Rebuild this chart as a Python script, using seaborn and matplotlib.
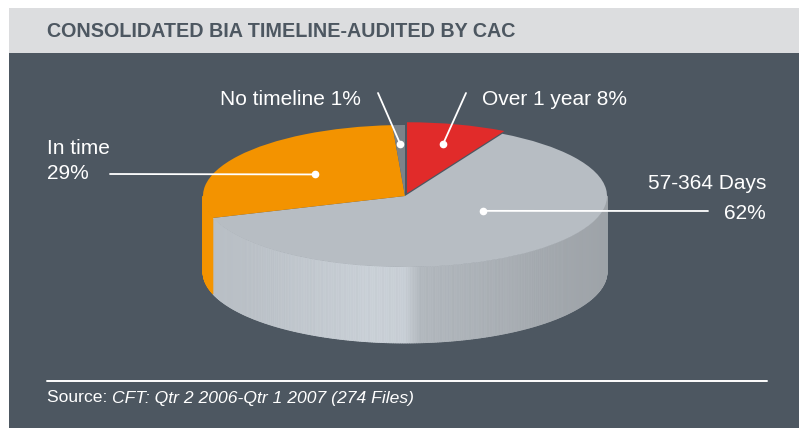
import numpy as np
import matplotlib
matplotlib.use("Agg")
import matplotlib.pyplot as plt
import seaborn as sns
from matplotlib.patches import Rectangle
from matplotlib.collections import PolyCollection

# data, clockwise from 12 o'clock
labels = ["Over 1 year", "57-364 Days", "In time", "No timeline"]
shares = [8, 62, 29, 1]
colors = ["#E12B2A", "#B7BDC3", "#F39300", "#7B838A"]
explode = [0.04, 0, 0, 0]

title = "CONSOLIDATED BIA TIMELINE-AUDITED BY CAC"
source_lead = "Source: "
source_rest = "CFT: Qtr 2 2006-Qtr 1 2007 (274 Files)"

sns.set_theme(style="white")
font = ["Liberation Sans Narrow", "Liberation Sans", "DejaVu Sans"]
plt.rcParams["font.family"] = font

W, H = 799, 428
fig = plt.figure(figsize=(W / 100, H / 100), dpi=100, facecolor="white")

# background panels (pixel coords)
ax_bg = fig.add_axes([0, 0, 1, 1], zorder=0)
ax_bg.set_xlim(0, W)
ax_bg.set_ylim(H, 0)
ax_bg.axis("off")
ax_bg.add_patch(Rectangle((9, 8), 790, 45, color="#DCDDDF", lw=0))
ax_bg.add_patch(Rectangle((9, 53), 790, 375, color="#4D5761", lw=0))
ax_bg.text(47, 31, title, fontsize=14.2, fontweight="bold", color="#4D5761",
           ha="left", va="center")

# pie axes: ellipse a=202px, b=71px, centre (405,196)
cx, cy, a, b = 405, 196, 202, 71
xl, yt, yb = 1.1, 1.3, 2.4
left = cx - a * xl
top = cy - b * yt
bottom = cy + b * yb
ax_pie = fig.add_axes([left / W, (H - bottom) / H, 2 * a * xl / W, (bottom - top) / H], zorder=1)
wedges, _ = ax_pie.pie(shares, colors=colors, startangle=90, counterclock=False,
                       explode=explode, wedgeprops=dict(linewidth=0))
for w in wedges:
    w.set_zorder(3)

# extruded side of the front half
depth = 76 / b
xs_ramp = [-1.0, -0.6, -0.15, 0.0, 0.08, 0.5, 1.0]
fs_ramp = [1.0, 1.05, 1.11, 1.10, 0.98, 0.93, 0.86]
polys, fcs = [], []
for w, c in zip(wedges, colors):
    t = np.arange(w.theta1, w.theta2 + 0.5, 0.5)
    t = np.clip(t, w.theta1, w.theta2)
    rgb = np.array(matplotlib.colors.to_rgb(c))
    for t0, t1 in zip(t[:-1], t[1:]):
        tm = np.deg2rad((t0 + t1) / 2)
        if np.sin(tm) >= 0:
            continue
        r0, r1 = np.deg2rad(t0), np.deg2rad(t1)
        p = [(np.cos(r0), np.sin(r0)), (np.cos(r1), np.sin(r1)),
             (np.cos(r1), np.sin(r1) - depth), (np.cos(r0), np.sin(r0) - depth)]
        polys.append(p)
        f = np.interp(np.cos(tm), xs_ramp, fs_ramp)
        fcs.append(np.clip(rgb * f, 0, 1))
side = PolyCollection(polys, facecolors=fcs, edgecolors=fcs, linewidths=0.6, zorder=1)
ax_pie.add_collection(side)
ax_pie.set_aspect("auto")
ax_pie.set_xlim(-xl, xl)
ax_pie.set_ylim(-yb, yt)
ax_pie.axis("off")

# overlay for labels and leader lines
ax_ov = fig.add_axes([0, 0, 1, 1], zorder=2)
ax_ov.set_xlim(0, W)
ax_ov.set_ylim(H, 0)
ax_ov.axis("off")
ax_ov.patch.set_alpha(0)


def anchor(i, r, shift=0.0):
    w = wedges[i]
    ang = np.deg2rad((w.theta1 + w.theta2) / 2 + shift)
    pt = ax_pie.transData.transform((w.center[0] + r * np.cos(ang), w.center[1] + r * np.sin(ang)))
    return ax_ov.transData.inverted().transform(pt)


txt = dict(color="white", fontsize=15)
ax_ov.text(482, 99, f"{labels[0]} {shares[0]}%", ha="left", va="center", **txt)
ax_ov.text(766, 183, labels[1], ha="right", va="center", **txt)
ax_ov.text(766, 213, f"{shares[1]}%", ha="right", va="center", **txt)
ax_ov.text(47, 148, labels[2], ha="left", va="center", **txt)
ax_ov.text(47, 173, f"{shares[2]}%", ha="left", va="center", **txt)
ax_ov.text(361, 99, f"{labels[3]} {shares[3]}%", ha="right", va="center", **txt)

# (wedge index, line start in px, radius in wedge, angle shift)
leaders = [(0, (466, 93), 0.72, 0), (1, (708, 211), 0.44, 22), (2, (110, 174), 0.54, 0), (3, (378, 93), 0.73, 0)]
for i, start, r, sh in leaders:
    end = anchor(i, r, sh)
    ax_ov.plot([start[0], end[0]], [start[1], end[1]], color="white", lw=1.3)
    ax_ov.plot(end[0], end[1], "o", color="white", ms=4.5)

# source line and note
ax_ov.plot([47, 767], [381, 381], color="white", lw=1.4)
t1 = ax_ov.text(47, 398, source_lead, ha="left", va="center", color="white", fontsize=12.6)
fig.canvas.draw()
bb = t1.get_window_extent()
x_end = ax_ov.transData.inverted().transform((bb.x1, bb.y0))[0]
ax_ov.text(x_end, 398, source_rest, ha="left", va="center", color="white",
           fontsize=12.6, style="italic")

fig.savefig("out.png", dpi=100, facecolor="white")
